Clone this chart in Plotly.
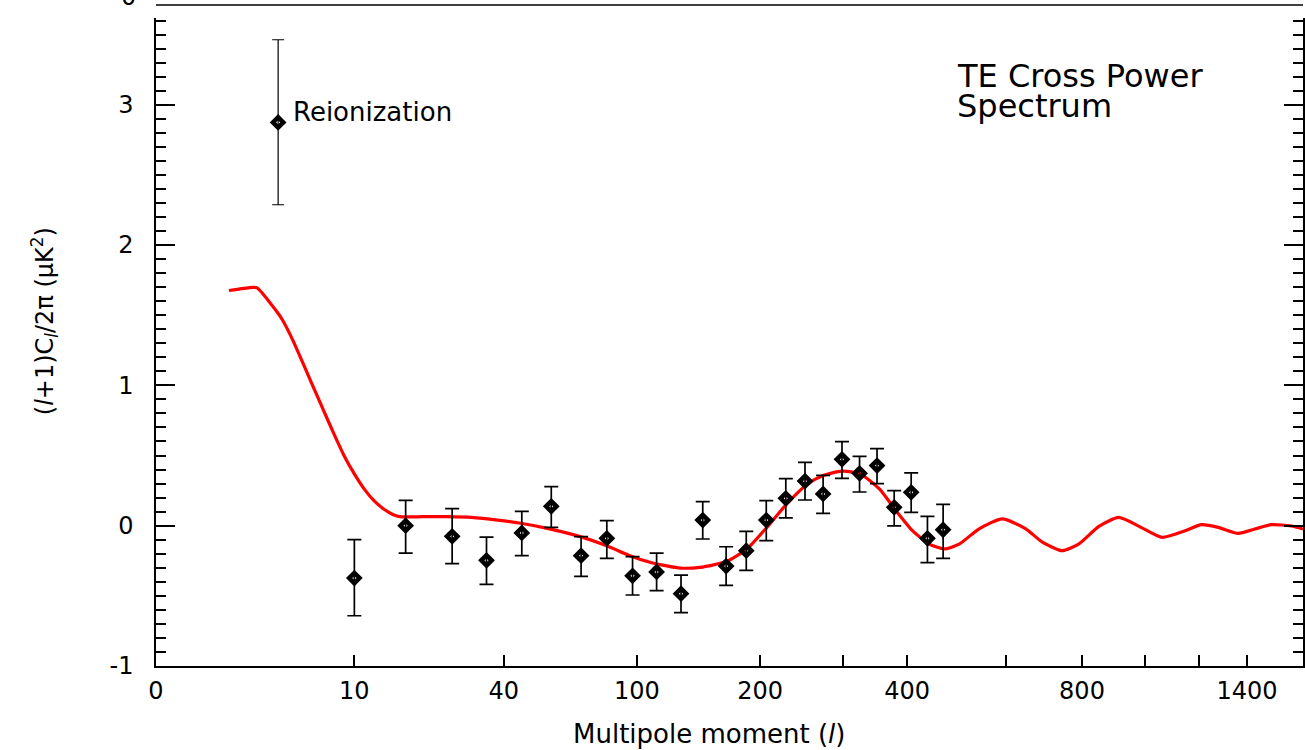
import numpy as np
import plotly.graph_objects as go

# ---------------- data ----------------
reion_l = [3.7]
reion_te = [2.874]
reion_hi = [3.463]
reion_lo = [2.287]

bin_l = [10, 17.1, 26.2, 34.9, 45.9, 56.9, 69.9, 82.8, 97.4, 112.7, 130.0, 147.0,
         167.1, 186.0, 206.3, 227.7, 250.3, 273.1, 298.5, 323.7, 350.3, 378.0,
         407.0, 436.3, 466.0]
bin_te = [-0.373, 0.0, -0.076, -0.247, -0.052, 0.138, -0.214, -0.09, -0.357, -0.33,
          -0.485, 0.04, -0.288, -0.178, 0.04, 0.195, 0.318, 0.226, 0.473, 0.373,
          0.428, 0.131, 0.238, -0.09, -0.029]
bin_hi = [-0.10, 0.18, 0.121, -0.081, 0.102, 0.278, -0.078, 0.036, -0.221, -0.195,
          -0.352, 0.171, -0.15, -0.04, 0.178, 0.335, 0.451, 0.359, 0.599, 0.494,
          0.549, 0.25, 0.376, 0.066, 0.152]
bin_lo = [-0.642, -0.195, -0.271, -0.418, -0.214, -0.012, -0.361, -0.233, -0.494, -0.463,
          -0.62, -0.095, -0.426, -0.318, -0.107, 0.055, 0.183, 0.088, 0.337, 0.24,
          0.299, -0.002, 0.095, -0.264, -0.233]

model_l = [1.53, 1.99, 2.48, 2.63, 3.58, 3.97, 4.61, 5.32, 6.09, 6.94, 7.88, 8.89,
           10.0, 11.15, 12.39, 13.72, 15.15, 16.17, 20.11, 25.08, 30.89, 38.13, 45.51,
           55.27, 69.51, 82.78, 95.82, 108.27, 114.95, 129.24, 144.81, 167.74, 186.62,
           206.97, 228.78, 252.27, 273.09, 295.32, 309.25, 328.55, 354.04, 380.98,
           409.31, 439.5, 468.01, 497.89, 539.92, 592.16, 648.38, 690.61, 744.19,
           791.26, 850.32, 912.59, 978.18, 1059.0, 1145.1, 1209.3, 1276.6, 1360.8,
           1434.4, 1510.6, 1606.4, 1664.5]
model_te = [1.676, 1.69, 1.699, 1.695, 1.533, 1.462, 1.319, 1.153, 0.986, 0.82, 0.654,
            0.499, 0.369, 0.262, 0.178, 0.119, 0.078, 0.064, 0.064, 0.064, 0.059, 0.04,
            0.017, -0.019, -0.078, -0.143, -0.214, -0.261, -0.278, -0.302, -0.297,
            -0.254, -0.166, -0.012, 0.155, 0.292, 0.357, 0.387, 0.385, 0.357, 0.262,
            0.107, -0.036, -0.131, -0.166, -0.132, -0.022, 0.048, -0.022, -0.117,
            -0.178, -0.129, -0.005, 0.059, -0.003, -0.083, -0.036, 0.007, -0.012, -0.055,
            -0.024, 0.007, -0.002, -0.024]

x_tick_l = [0, 10, 40, 100, 200, 400, 800, 1400]
x_tick_text = ["0", "10", "40", "100", "200", "400", "800", "1400"]
x_minor_l = [300, 600, 1000, 1200]
y_tick_vals = [-1, 0, 1, 2, 3]
y_tick_text = ["-1", "0", "1", "2", "3"]
l_max = 1664.5
y_range = [-1, 3.618]


# ---------------- multipole axis scale ----------------
def lscale(l):
    return (np.asarray(l, dtype=float) + 0.5) ** 0.25 - 0.5 ** 0.25


FONT = "DejaVu Sans"

bin_te_a = np.array(bin_te)
err_plus = np.array(bin_hi) - bin_te_a
err_minus = bin_te_a - np.array(bin_lo)
r_te = np.array(reion_te)

fig = go.Figure()

fig.add_trace(go.Scatter(
    x=lscale(model_l), y=model_te, mode="lines",
    line=dict(color="#ff0000", width=3.2, shape="spline", smoothing=0.6),
    hoverinfo="skip", showlegend=False))

fig.add_trace(go.Scatter(
    x=lscale(bin_l), y=bin_te, mode="markers",
    marker=dict(symbol="diamond-open", size=8, color="black",
                line=dict(color="black", width=4.5)),
    error_y=dict(type="data", symmetric=False, array=err_plus, arrayminus=err_minus,
                 color="black", thickness=1.7, width=7),
    showlegend=False))

fig.add_trace(go.Scatter(
    x=lscale(reion_l), y=reion_te, mode="markers",
    marker=dict(symbol="diamond-open", size=8, color="black",
                line=dict(color="black", width=4.5)),
    error_y=dict(type="data", symmetric=False,
                 array=np.array(reion_hi) - r_te, arrayminus=r_te - np.array(reion_lo),
                 color="black", thickness=1.2, width=6),
    showlegend=False))

W, H = 1305, 750
ML, MR, MT, MB = 156, 0, 18, 84
PW, PH = W - ML - MR, H - MT - MB


def px(xp):
    return (xp - ML) / PW


def py(yp):
    return (H - MB - yp) / PH


fig.update_layout(
    width=W, height=H,
    margin=dict(l=ML, r=MR, t=MT, b=MB, pad=0),
    paper_bgcolor="white", plot_bgcolor="white",
    font=dict(family=FONT, size=24, color="black"),
    xaxis=dict(range=[0, float(lscale(l_max))], tickmode="array",
               tickvals=lscale(x_tick_l), ticktext=x_tick_text,
               ticks="inside", ticklen=11, tickwidth=1.5, tickcolor="black",
               minor=dict(tickmode="array", tickvals=lscale(x_minor_l),
                          ticks="inside", ticklen=11, tickwidth=1.5,
                          tickcolor="black"),
               showline=True, linecolor="black", linewidth=1.5, mirror=False,
               showgrid=False, zeroline=False, ticklabelstandoff=2,
               tickfont=dict(family=FONT, size=24, color="black")),
    yaxis=dict(range=y_range, tickmode="array", tickvals=y_tick_vals,
               ticktext=y_tick_text,
               ticks="inside", ticklen=19, tickwidth=1.5, tickcolor="black",
               minor=dict(dtick=0.1, tick0=0, ticks="inside", ticklen=10,
                          tickwidth=1.5, tickcolor="black"),
               showline=True, linecolor="black", linewidth=1.5, mirror="ticks",
               showgrid=False, zeroline=False, ticklabelstandoff=16,
               tickfont=dict(family=FONT, size=24, color="black")),
    shapes=[dict(type="line", xref="paper", yref="paper", x0=0, x1=1,
                 y0=py(5), y1=py(5), line=dict(color="black", width=1.5))],
    annotations=[
        dict(text="Reionization", xref="paper", yref="paper", x=px(291), y=py(112),
             xanchor="left", yanchor="middle", showarrow=False,
             font=dict(family=FONT, size=26)),
        dict(text="TE Cross Power", xref="paper", yref="paper", x=px(956), y=py(76),
             xanchor="left", yanchor="middle", showarrow=False,
             font=dict(family=FONT, size=32)),
        dict(text="Spectrum", xref="paper", yref="paper", x=px(956), y=py(106),
             xanchor="left", yanchor="middle", showarrow=False,
             font=dict(family=FONT, size=32)),
        dict(text="Multipole moment (<i>l</i>)", xref="paper", yref="paper",
             x=px(710), y=py(734), xanchor="center", yanchor="middle",
             showarrow=False, font=dict(family=FONT, size=26)),
        dict(text="(<i>l</i>+1)C<sub><i>l</i></sub>/2\u03c0 (\u03bcK<sup>2</sup>)",
             xref="paper", yref="paper", x=px(44), y=py(321), textangle=-90,
             xanchor="center", yanchor="middle", showarrow=False,
             font=dict(family=FONT, size=24)),
        dict(text="0", xref="paper", yref="paper", x=px(128), y=py(-3.5),
             xanchor="center", yanchor="middle", showarrow=False,
             font=dict(family=FONT, size=24)),
    ],
)

fig.write_html(
    "out.html",
    config={"displayModeBar": False},
    post_script="document.body.style.margin='0';document.body.style.padding='0';"
                "document.body.style.overflow='hidden';",
)
